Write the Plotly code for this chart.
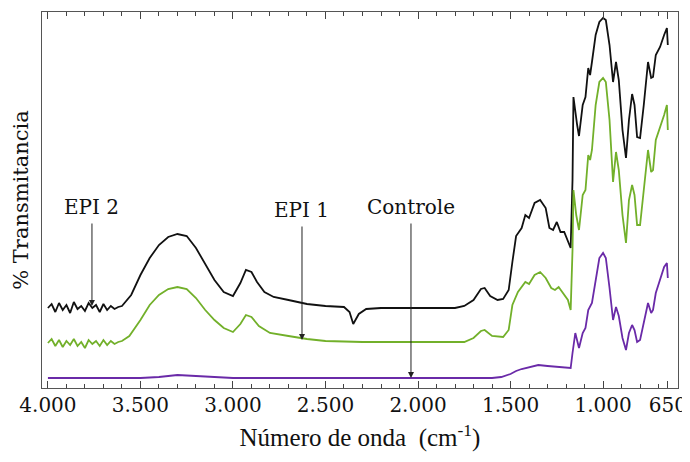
import plotly.graph_objects as go

# ---- data (wavenumber in cm-1, transmittance in arbitrary offset units) ----
epi2_wn = [4000, 3980, 3960, 3940, 3920, 3900, 3880, 3860, 3840, 3820, 3800, 3780, 3760, 3740, 3720,
           3700, 3680, 3660, 3640, 3620, 3600, 3550, 3500, 3450, 3400, 3350, 3300, 3250, 3200, 3150,
           3100, 3050, 3000, 2960, 2930, 2900, 2870, 2830, 2780, 2700, 2600, 2500, 2400, 2370, 2350,
           2320, 2280, 2200, 2000, 1800, 1750, 1700, 1660, 1640, 1610, 1570, 1540, 1510, 1490, 1470,
           1440, 1420, 1400, 1370, 1340, 1310, 1290, 1270, 1250, 1230, 1210, 1190, 1175, 1165, 1160,
           1140, 1130, 1110, 1095, 1080, 1070, 1060, 1040, 1020, 1000, 985, 965, 946, 930, 915,
           895, 876, 860, 843, 830, 816, 800, 780, 757, 740, 730, 715, 692, 670, 655, 650]
epi2_t = [80, 84, 76, 85, 78, 83, 75, 86, 79, 82, 77, 85, 80, 83, 76,
          84, 78, 82, 79, 81, 82, 93, 113, 130, 143, 151, 154, 152, 140, 124,
          108, 96, 92, 105, 118, 116, 106, 96, 91, 88, 84, 82, 81, 76, 64,
          74, 79, 80, 80, 80, 82, 88, 99, 100, 92, 88, 89, 98, 126, 152,
          160, 173, 170, 185, 188, 180, 160, 158, 166, 156, 156, 146, 140, 208, 291,
          263, 252, 283, 291, 320, 313, 326, 353, 366, 370, 368, 343, 306, 326, 308,
          258, 230, 268, 294, 283, 251, 250, 283, 326, 310, 311, 333, 341, 353, 360, 343]

epi1_wn = [4000, 3980, 3960, 3940, 3920, 3900, 3880, 3860, 3840, 3820, 3800, 3780, 3760, 3740, 3720,
           3700, 3680, 3660, 3640, 3620, 3600, 3560, 3500, 3450, 3400, 3350, 3300, 3250, 3200, 3150,
           3100, 3050, 3000, 2960, 2930, 2900, 2860, 2800, 2700, 2600, 2500, 2300, 1750, 1700, 1660,
           1640, 1600, 1540, 1510, 1490, 1460, 1420, 1400, 1370, 1340, 1310, 1280, 1260, 1240, 1220,
           1190, 1175, 1165, 1160, 1145, 1130, 1110, 1095, 1080, 1070, 1060, 1040, 1020, 1000, 985,
           965, 946, 930, 915, 895, 876, 860, 843, 830, 816, 800, 780, 757, 740, 730, 715, 692,
           670, 655, 650]
epi1_t = [45, 49, 42, 48, 41, 47, 43, 49, 42, 46, 40, 48, 44, 47, 42,
          48, 43, 47, 44, 46, 47, 52, 68, 83, 93, 99, 101, 99, 90, 78,
          68, 60, 56, 64, 73, 71, 62, 55, 52, 49, 47, 46, 46, 50, 57,
          58, 52, 51, 58, 83, 96, 106, 104, 113, 116, 110, 100, 98, 101, 96,
          88, 78, 138, 198, 173, 158, 193, 198, 233, 228, 238, 283, 306, 310, 306,
          268, 206, 236, 218, 173, 145, 188, 203, 193, 163, 163, 198, 238, 216, 218, 248, 260,
          273, 283, 258]

ctrl_wn = [4000, 3500, 3400, 3300, 3200, 3000, 1600, 1550, 1500, 1470, 1440, 1400, 1350, 1300,
           1250, 1200, 1175, 1165, 1150, 1130, 1110, 1095, 1080, 1060, 1040, 1020, 1000, 985,
           965, 946, 930, 915, 895, 876, 860, 843, 830, 816, 800, 780, 757, 740, 730, 715,
           692, 670, 655, 650]
ctrl_t = [10, 10, 11, 13, 12, 10, 10, 11, 14, 17, 19, 21, 23, 22,
          21, 20, 20, 35, 55, 40, 55, 60, 78, 85, 110, 130, 135, 130,
          100, 68, 81, 72, 50, 38, 55, 63, 58, 46, 48, 65, 85, 75, 78, 95,
          108, 121, 125, 110]

tick_vals = [4000, 3500, 3000, 2500, 2000, 1500, 1000, 650]
tick_text = ["4.000", "3.500", "3.000", "2.500", "2.000", "1.500", "1.000", "650"]
minor_vals = list(range(4000, 599, -100))

labels = ["EPI 2", "EPI 1", "Controle"]
label_x = [3762, 2627, 2038]
label_tip = [82, 48, 10]
label_tail = [166, 163, 166]

SERIF = "Liberation Serif"
WIDE = "DejaVu Serif"

fig = go.Figure()
fig.add_trace(go.Scatter(x=epi2_wn, y=epi2_t, mode="lines",
                         line=dict(color="#111111", width=1.8), name="EPI 2"))
fig.add_trace(go.Scatter(x=epi1_wn, y=epi1_t, mode="lines",
                         line=dict(color="#72b02a", width=1.8), name="EPI 1"))
fig.add_trace(go.Scatter(x=ctrl_wn, y=ctrl_t, mode="lines",
                         line=dict(color="#6a2aa8", width=1.8), name="Controle"))

for lab, lx, tip, tail in zip(labels, label_x, label_tip, label_tail):
    fig.add_annotation(x=lx, y=tip, ax=lx, ay=tail,
                       xref="x", yref="y", axref="x", ayref="y",
                       showarrow=True, arrowhead=2, arrowsize=1.2, arrowwidth=1,
                       arrowcolor="#222222", text="")
    fig.add_annotation(x=lx, y=tail + 1, xref="x", yref="y",
                       text=lab, showarrow=False, yanchor="bottom",
                       font=dict(family=WIDE, size=20, color="#111111"))

# the page body adds an 8px offset, so the figure is 8px smaller and margins compensate
fig.update_layout(
    width=682, height=454,
    margin=dict(l=34, r=12, t=4, b=74),
    paper_bgcolor="white", plot_bgcolor="white",
    showlegend=False,
    font=dict(family=SERIF, color="#111111"),
)
fig.update_xaxes(
    range=[4032, 595], tickmode="array", tickvals=tick_vals, ticktext=tick_text,
    ticks="inside", ticklen=7, tickcolor="#444444", tickwidth=1,
    minor=dict(tickmode="array", tickvals=minor_vals, ticks="inside", ticklen=4,
               tickcolor="#444444"),
    showline=True, linecolor="#555555", linewidth=1, mirror="allticks",
    showgrid=False, zeroline=False, automargin=False,
    ticklabelstandoff=-1,
    tickfont=dict(family=WIDE, size=20, color="#111111"),
    title=dict(text="Número de onda  (cm<sup>-1</sup>)",
               font=dict(family=SERIF, size=25, color="#111111"), standoff=12),
)
fig.update_yaxes(
    range=[0, 376], showticklabels=False, ticks="",
    showline=True, linecolor="#555555", linewidth=1, mirror=True,
    showgrid=False, zeroline=False, automargin=False,
    title=dict(text="% Transmitancia",
               font=dict(family=WIDE, size=21, color="#111111"), standoff=6),
)

fig.write_html("out.html")
